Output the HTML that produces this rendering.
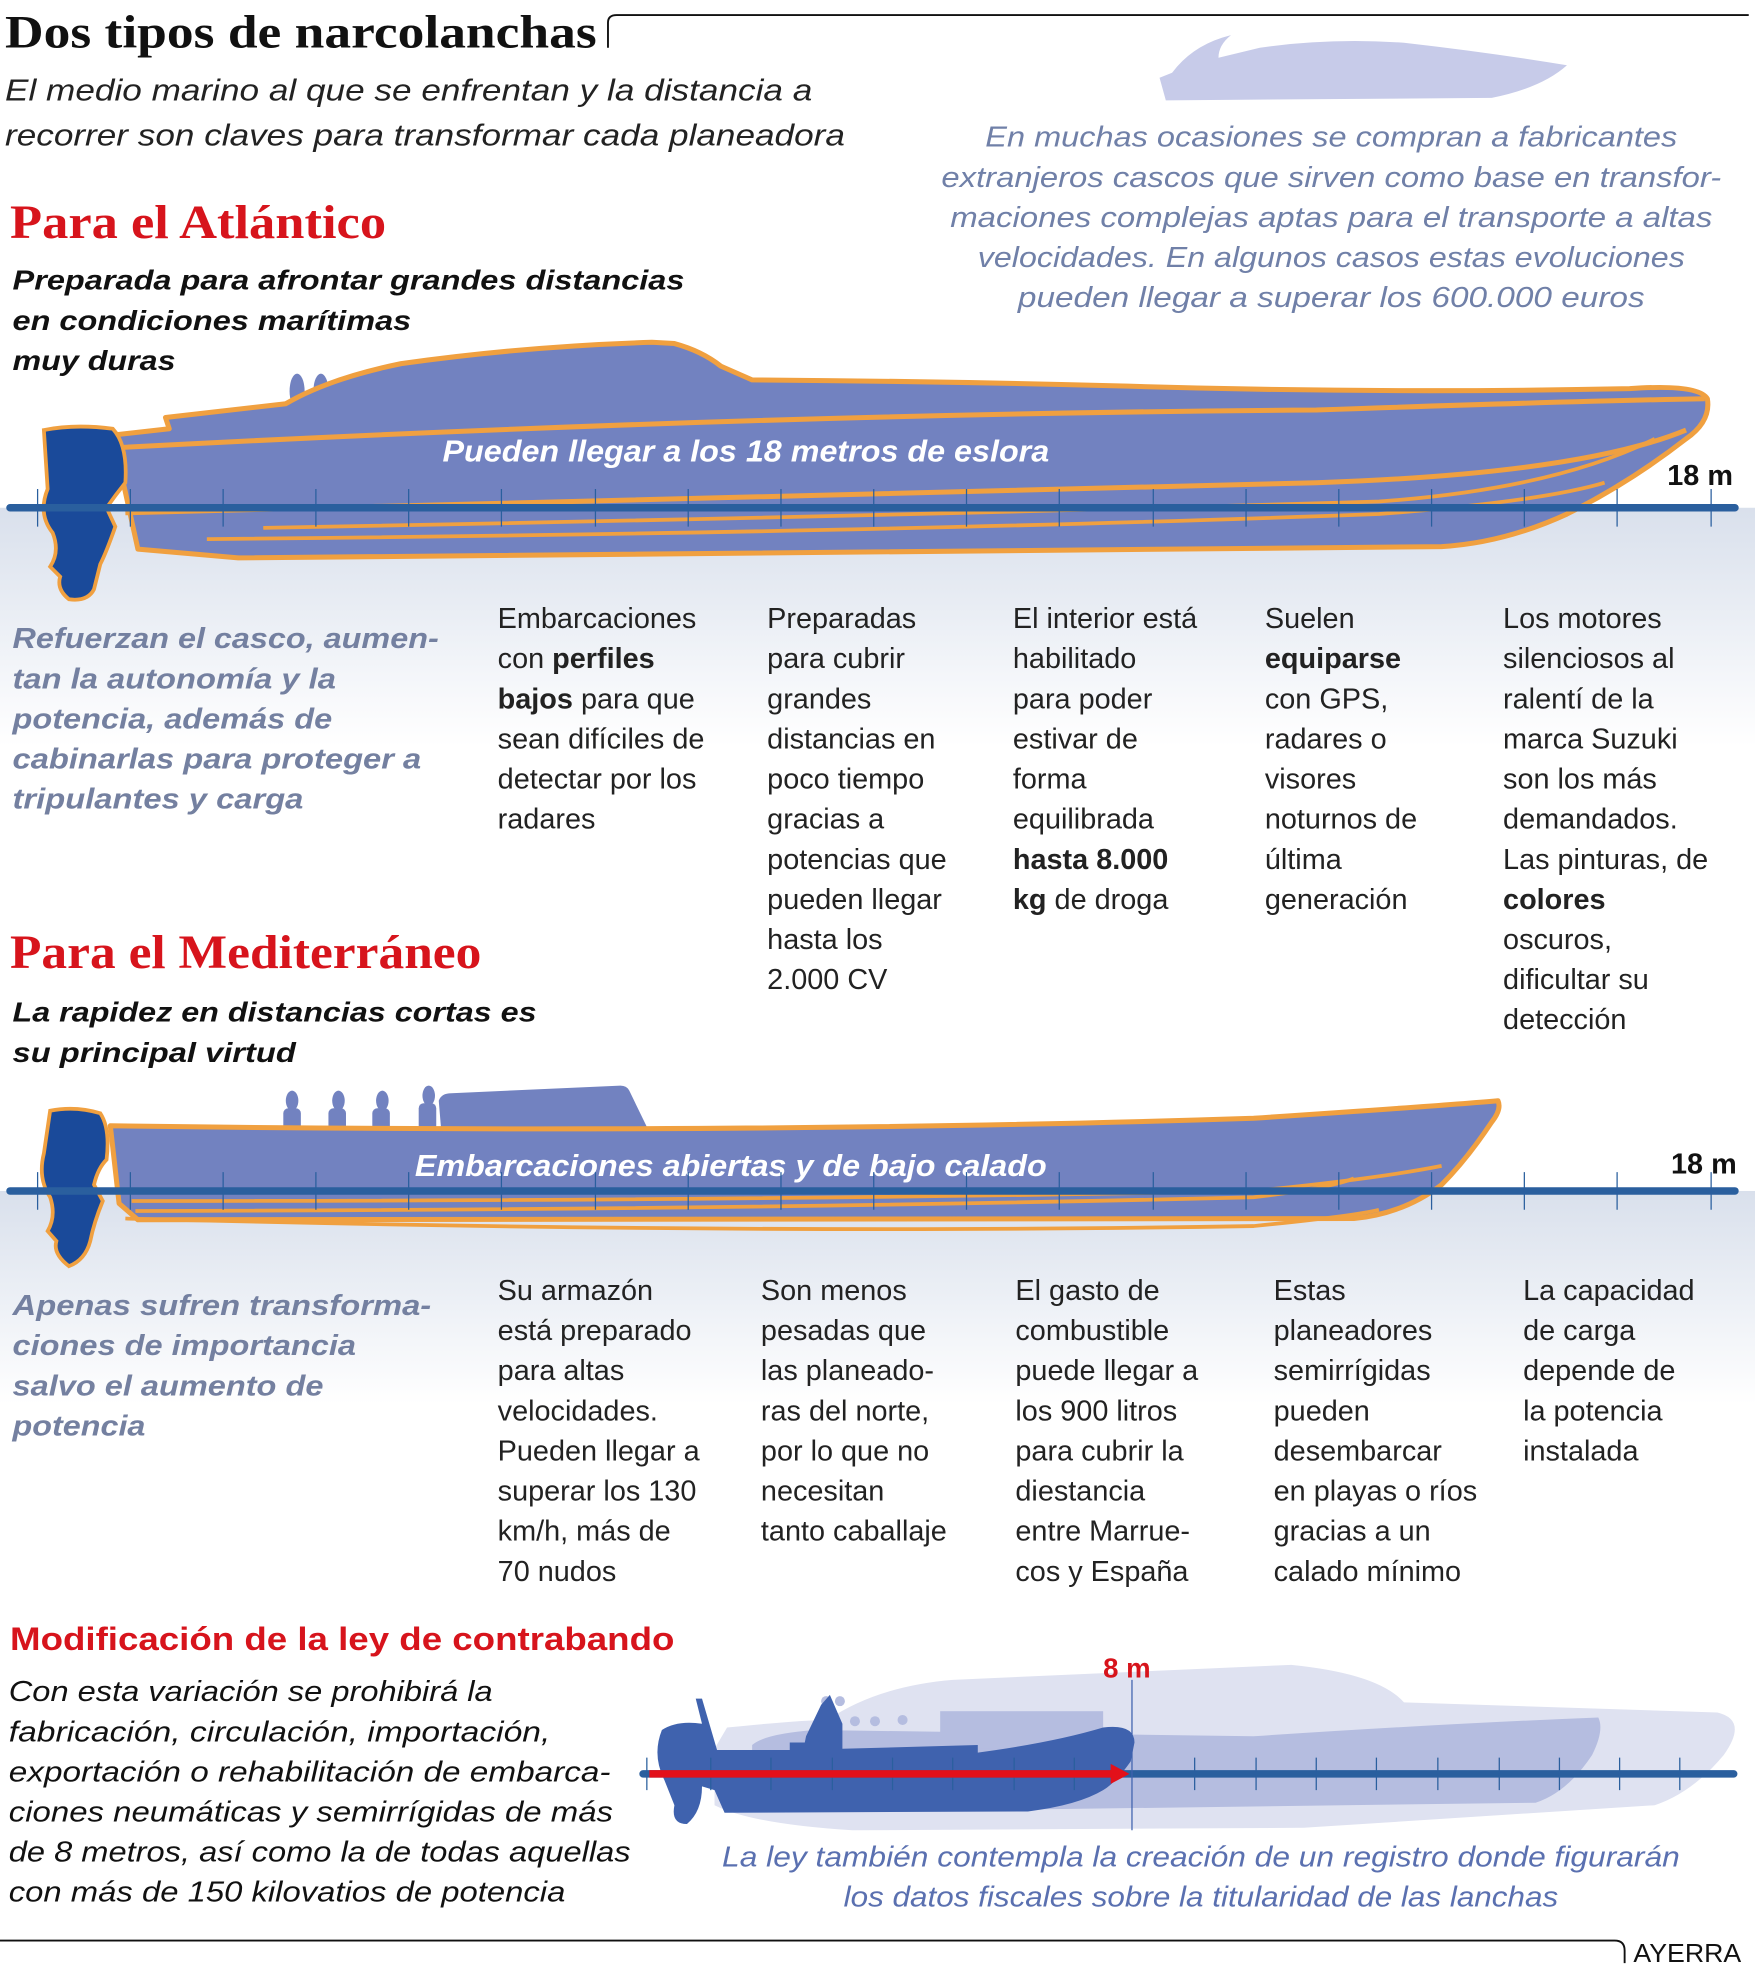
<!DOCTYPE html>
<html><head><meta charset="utf-8"><style>html,body{margin:0;padding:0;background:#fff}svg{display:block}</style></head>
<body>
<svg width="1755" height="1967" viewBox="0 0 1400 1569" xmlns="http://www.w3.org/2000/svg" font-family="Liberation Sans, DejaVu Sans, sans-serif">
<defs>
<linearGradient id="w1" x1="0" y1="0" x2="0" y2="1"><stop offset="0" stop-color="#d9e0ec"/><stop offset="1" stop-color="#ffffff"/></linearGradient>
</defs>
<rect width="1400" height="1569" fill="#fff"/>
<!-- water bands -->
<rect x="0" y="405" width="1400" height="190" fill="url(#w1)"/>
<rect x="0" y="950" width="1400" height="170" fill="url(#w1)"/>

<!-- header -->
<text x="4" y="38" font-family="Liberation Serif, serif" font-weight="bold" font-size="37" fill="#111" textLength="472" lengthAdjust="spacingAndGlyphs">Dos tipos de narcolanchas</text>
<path d="M485 38 V18 Q485 12 492 12 H1395" fill="none" stroke="#111" stroke-width="1.5"/>
<g font-style="italic" font-size="24" fill="#222">
<text x="4" y="80" textLength="644" lengthAdjust="spacingAndGlyphs">El medio marino al que se enfrentan y la distancia a</text>
<text x="4" y="116" textLength="670" lengthAdjust="spacingAndGlyphs">recorrer son claves para transformar cada planeadora</text>
</g>
<!-- top-right light boat -->
<path d="M925 62 L935 58 Q950 38 975 30 L982 28 Q972 36 972 46 L1005 38 Q1060 30 1120 34 Q1190 42 1250 52 Q1230 70 1190 78 L930 80 Z" fill="#c7cbe9"/>
<g font-style="italic" font-size="23" fill="#7080a8" text-anchor="middle">
<text x="1062" y="117" textLength="552" lengthAdjust="spacingAndGlyphs">En muchas ocasiones se compran a fabricantes</text>
<text x="1062" y="149" textLength="622" lengthAdjust="spacingAndGlyphs">extranjeros cascos que sirven como base en transfor-</text>
<text x="1062" y="181" textLength="608" lengthAdjust="spacingAndGlyphs">maciones complejas aptas para el transporte a altas</text>
<text x="1062" y="213" textLength="564" lengthAdjust="spacingAndGlyphs">velocidades. En algunos casos estas evoluciones</text>
<text x="1062" y="245" textLength="500" lengthAdjust="spacingAndGlyphs">pueden llegar a superar los 600.000 euros</text>
</g>

<!-- Atlantico -->
<text x="8" y="190" font-family="Liberation Serif, serif" font-weight="bold" font-size="38" fill="#d7141c" textLength="300" lengthAdjust="spacingAndGlyphs">Para el Atlántico</text>
<g font-style="italic" font-weight="bold" font-size="22" fill="#111">
<text x="10" y="231" textLength="536" lengthAdjust="spacingAndGlyphs">Preparada para afrontar grandes distancias</text>
<text x="10" y="263" textLength="318" lengthAdjust="spacingAndGlyphs">en condiciones marítimas</text>
<text x="10" y="295" textLength="130" lengthAdjust="spacingAndGlyphs">muy duras</text>
</g>

<!-- boat 1 -->
<g>
<ellipse cx="237" cy="312" rx="6" ry="14" fill="#7282c0"/>
<ellipse cx="256" cy="312" rx="6" ry="14" fill="#7282c0"/>
<path d="M90 347 L135 342 L132 333 L228 322 Q262 302 320 290 Q420 276 520 273 L538 274 Q560 280 575 292 L600 303 Q750 304 900 308 Q1100 314 1300 310 Q1355 306 1362 318 Q1365 336 1345 350 Q1300 385 1250 410 Q1200 433 1150 436 L190 445 L110 438 Z" fill="#7282c0" stroke="#f0a040" stroke-width="4" stroke-linejoin="round"/>
<path d="M95 357 Q600 330 1050 327 Q1250 320 1360 318" fill="none" stroke="#f0a040" stroke-width="4"/>
<path d="M100 409 Q600 395 1050 385 Q1260 378 1345 343" fill="none" stroke="#f0a040" stroke-width="4"/>
<path d="M210 421 Q700 412 1100 400 Q1240 390 1320 350" fill="none" stroke="#f0a040" stroke-width="3"/>
<path d="M165 430 Q700 425 1100 410 Q1230 400 1280 385" fill="none" stroke="#f0a040" stroke-width="3"/>
<path d="M35 343 Q60 338 90 342 Q102 355 100 385 Q92 395 85 405 L92 420 Q85 440 80 450 L75 470 Q70 480 55 478 Q45 470 48 460 L40 452 Q48 440 42 425 Q30 410 38 390 Z" fill="#1a4a9a" stroke="#f0a040" stroke-width="3"/>
<text x="595" y="368" text-anchor="middle" font-style="italic" font-weight="bold" font-size="24" fill="#fff" textLength="484" lengthAdjust="spacingAndGlyphs">Pueden llegar a los 18 metros de eslora</text>
</g>
<line x1="8" y1="405" x2="1384" y2="405" stroke="#2a5f9e" stroke-width="6" stroke-linecap="round"/>
<g stroke="#2a5f9e" stroke-width="1">
<path d="M30 390V420M104 390V420M178 390V420M252 390V420M326 390V420M400 390V420M475 390V420M549 390V420M623 390V420M697 390V420M771 390V420M845 390V420M920 390V420M994 390V420M1068 390V420M1142 390V420M1216 390V420M1290 390V420M1365 390V420"/>
</g>
<text x="1330" y="387" font-weight="bold" font-size="23" fill="#111">18 m</text>

<g font-style="italic" font-weight="bold" font-size="23" fill="#7480a0">
<text x="10" y="517" textLength="340" lengthAdjust="spacingAndGlyphs">Refuerzan el casco, aumen-</text>
<text x="10" y="549" textLength="258" lengthAdjust="spacingAndGlyphs">tan la autonomía y la</text>
<text x="10" y="581" textLength="255" lengthAdjust="spacingAndGlyphs">potencia, además de</text>
<text x="10" y="613" textLength="326" lengthAdjust="spacingAndGlyphs">cabinarlas para proteger a</text>
<text x="10" y="645" textLength="232" lengthAdjust="spacingAndGlyphs">tripulantes y carga</text>
</g>
<g font-size="23" fill="#222">
<text x="397" y="501">Embarcaciones</text>
<text x="397" y="533">con <tspan font-weight="bold">perfiles</tspan></text>
<text x="397" y="565"><tspan font-weight="bold">bajos</tspan> para que</text>
<text x="397" y="597">sean difíciles de</text>
<text x="397" y="629">detectar por los</text>
<text x="397" y="661">radares</text>

<text x="612" y="501">Preparadas</text>
<text x="612" y="533">para cubrir</text>
<text x="612" y="565">grandes</text>
<text x="612" y="597">distancias en</text>
<text x="612" y="629">poco tiempo</text>
<text x="612" y="661">gracias a</text>
<text x="612" y="693">potencias que</text>
<text x="612" y="725">pueden llegar</text>
<text x="612" y="757">hasta los</text>
<text x="612" y="789">2.000 CV</text>

<text x="808" y="501">El interior está</text>
<text x="808" y="533">habilitado</text>
<text x="808" y="565">para poder</text>
<text x="808" y="597">estivar de</text>
<text x="808" y="629">forma</text>
<text x="808" y="661">equilibrada</text>
<text x="808" y="693" font-weight="bold">hasta 8.000</text>
<text x="808" y="725"><tspan font-weight="bold">kg</tspan> de droga</text>

<text x="1009" y="501">Suelen</text>
<text x="1009" y="533" font-weight="bold">equiparse</text>
<text x="1009" y="565">con GPS,</text>
<text x="1009" y="597">radares o</text>
<text x="1009" y="629">visores</text>
<text x="1009" y="661">noturnos de</text>
<text x="1009" y="693">última</text>
<text x="1009" y="725">generación</text>

<text x="1199" y="501">Los motores</text>
<text x="1199" y="533">silenciosos al</text>
<text x="1199" y="565">ralentí de la</text>
<text x="1199" y="597">marca Suzuki</text>
<text x="1199" y="629">son los más</text>
<text x="1199" y="661">demandados.</text>
<text x="1199" y="693">Las pinturas, de</text>
<text x="1199" y="725" font-weight="bold">colores</text>
<text x="1199" y="757">oscuros,</text>
<text x="1199" y="789">dificultar su</text>
<text x="1199" y="821">detección</text>
</g>

<!-- Mediterraneo -->
<text x="8" y="772" font-family="Liberation Serif, serif" font-weight="bold" font-size="38" fill="#d7141c" textLength="376" lengthAdjust="spacingAndGlyphs">Para el Mediterráneo</text>
<g font-style="italic" font-weight="bold" font-size="22" fill="#111">
<text x="10" y="815" textLength="418" lengthAdjust="spacingAndGlyphs">La rapidez en distancias cortas es</text>
<text x="10" y="847" textLength="226" lengthAdjust="spacingAndGlyphs">su principal virtud</text>
</g>
<g fill="#7282c0">
<path d="M352 902 L350 878 Q352 872 360 872 L495 866 Q500 866 502 870 L518 903 Z"/>
<ellipse cx="233" cy="878" rx="5" ry="8"/><rect x="226" y="884" width="14" height="18" rx="4"/>
<ellipse cx="270" cy="878" rx="5" ry="8"/><rect x="262" y="884" width="14" height="18" rx="4"/>
<ellipse cx="305" cy="878" rx="5" ry="8"/><rect x="297" y="884" width="14" height="18" rx="4"/>
<ellipse cx="342" cy="874" rx="5" ry="8"/><rect x="334" y="880" width="14" height="22" rx="4"/>
</g>
<path d="M88 898 Q600 905 1000 892 Q1150 882 1195 878 Q1198 885 1190 895 Q1170 925 1150 945 Q1120 968 1080 972 L110 973 L95 960 Z" fill="#7282c0" stroke="#f0a040" stroke-width="4" stroke-linejoin="round"/>
<path d="M105 958 Q600 958 1000 950 Q1100 940 1150 930" fill="none" stroke="#f0a040" stroke-width="3"/>
<path d="M108 966 Q600 965 1000 955 Q1060 948 1080 940" fill="none" stroke="#f0a040" stroke-width="3"/>
<path d="M100 972 Q600 985 1000 978 Q1080 970 1100 965" fill="none" stroke="#f0a040" stroke-width="3"/>
<path d="M40 886 Q60 882 80 888 Q88 900 85 925 Q78 932 75 945 L82 958 Q75 975 72 990 Q68 1005 55 1010 Q42 1000 45 990 L38 982 Q45 970 40 955 Q30 940 35 920 Z" fill="#1a4a9a" stroke="#f0a040" stroke-width="3"/>
<text x="583" y="938" text-anchor="middle" font-style="italic" font-weight="bold" font-size="24" fill="#fff" textLength="504" lengthAdjust="spacingAndGlyphs">Embarcaciones abiertas y de bajo calado</text>
<line x1="8" y1="950" x2="1384" y2="950" stroke="#2a5f9e" stroke-width="6" stroke-linecap="round"/>
<g stroke="#2a5f9e" stroke-width="1">
<path d="M30 935V965M104 935V965M178 935V965M252 935V965M326 935V965M400 935V965M475 935V965M549 935V965M623 935V965M697 935V965M771 935V965M845 935V965M920 935V965M994 935V965M1068 935V965M1142 935V965M1216 935V965M1290 935V965M1365 935V965"/>
</g>
<text x="1333" y="936" font-weight="bold" font-size="23" fill="#111">18 m</text>

<g font-style="italic" font-weight="bold" font-size="23" fill="#7480a0">
<text x="10" y="1049" textLength="334" lengthAdjust="spacingAndGlyphs">Apenas sufren transforma-</text>
<text x="10" y="1081" textLength="274" lengthAdjust="spacingAndGlyphs">ciones de importancia</text>
<text x="10" y="1113" textLength="248" lengthAdjust="spacingAndGlyphs">salvo el aumento de</text>
<text x="10" y="1145" textLength="106" lengthAdjust="spacingAndGlyphs">potencia</text>
</g>
<g font-size="23" fill="#222">
<text x="397" y="1037">Su armazón</text>
<text x="397" y="1069">está preparado</text>
<text x="397" y="1101">para altas</text>
<text x="397" y="1133">velocidades.</text>
<text x="397" y="1165">Pueden llegar a</text>
<text x="397" y="1197">superar los 130</text>
<text x="397" y="1229">km/h, más de</text>
<text x="397" y="1261">70 nudos</text>

<text x="607" y="1037">Son menos</text>
<text x="607" y="1069">pesadas que</text>
<text x="607" y="1101">las planeado-</text>
<text x="607" y="1133">ras del norte,</text>
<text x="607" y="1165">por lo que no</text>
<text x="607" y="1197">necesitan</text>
<text x="607" y="1229">tanto caballaje</text>

<text x="810" y="1037">El gasto de</text>
<text x="810" y="1069">combustible</text>
<text x="810" y="1101">puede llegar a</text>
<text x="810" y="1133">los 900 litros</text>
<text x="810" y="1165">para cubrir la</text>
<text x="810" y="1197">diestancia</text>
<text x="810" y="1229">entre Marrue-</text>
<text x="810" y="1261">cos y España</text>

<text x="1016" y="1037">Estas</text>
<text x="1016" y="1069">planeadores</text>
<text x="1016" y="1101">semirrígidas</text>
<text x="1016" y="1133">pueden</text>
<text x="1016" y="1165">desembarcar</text>
<text x="1016" y="1197">en playas o ríos</text>
<text x="1016" y="1229">gracias a un</text>
<text x="1016" y="1261">calado mínimo</text>

<text x="1215" y="1037">La capacidad</text>
<text x="1215" y="1069">de carga</text>
<text x="1215" y="1101">depende de</text>
<text x="1215" y="1133">la potencia</text>
<text x="1215" y="1165">instalada</text>
</g>

<!-- Modificacion -->
<text x="8" y="1316" font-weight="bold" font-size="26" fill="#d7141c" textLength="530" lengthAdjust="spacingAndGlyphs">Modificación de la ley de contrabando</text>
<g font-style="italic" font-size="23" fill="#111">
<text x="7" y="1357" textLength="386" lengthAdjust="spacingAndGlyphs">Con esta variación se prohibirá la</text>
<text x="7" y="1389" textLength="432" lengthAdjust="spacingAndGlyphs">fabricación, circulación, importación,</text>
<text x="7" y="1421" textLength="480" lengthAdjust="spacingAndGlyphs">exportación o rehabilitación de embarca-</text>
<text x="7" y="1453" textLength="482" lengthAdjust="spacingAndGlyphs">ciones neumáticas y semirrígidas de más</text>
<text x="7" y="1485" textLength="496" lengthAdjust="spacingAndGlyphs">de 8 metros, así como la de todas aquellas</text>
<text x="7" y="1517" textLength="444" lengthAdjust="spacingAndGlyphs">con más de 150 kilovatios de potencia</text>
</g>
<!-- law diagram -->
<path d="M570 1395 L580 1378 Q640 1372 660 1372 Q700 1345 760 1340 L1030 1328 Q1100 1335 1120 1358 L1370 1366 Q1395 1372 1375 1400 Q1350 1430 1320 1440 L1040 1458 L680 1460 Q600 1455 570 1440 Z" fill="#dfe2f1"/>
<path d="M600 1392 Q610 1383 650 1380 L1000 1385 Q1150 1375 1275 1370 Q1280 1380 1270 1400 Q1250 1430 1225 1438 L700 1445 Q640 1440 600 1420 Z" fill="#b5bde0"/>
<g fill="#b5bde0">
<circle cx="659" cy="1357" r="4"/><circle cx="670" cy="1357" r="4"/><circle cx="682" cy="1373" r="4"/><circle cx="698" cy="1373" r="4"/><circle cx="720" cy="1372" r="4"/>
<rect x="750" y="1365" width="130" height="30"/>
</g>
<path d="M528 1380 Q540 1372 560 1375 L555 1355 L560 1355 L572 1396 L630 1396 L630 1390 L642 1390 L643 1385 L655 1360 L662 1352 L672 1375 L672 1395 L780 1392 L780 1398 Q840 1390 880 1378 Q905 1375 905 1390 L902 1405 Q890 1422 880 1428 Q860 1440 820 1445 L578 1446 L570 1428 L560 1425 Q560 1445 548 1455 Q535 1455 538 1440 L530 1420 Q520 1400 528 1380 Z" fill="#3f62ae"/>
<line x1="513" y1="1415" x2="1383" y2="1415" stroke="#2a5f9e" stroke-width="6" stroke-linecap="round"/>
<g stroke="#2a5f9e" stroke-width="1">
<path d="M516 1402V1428M567 1402V1428M615 1402V1428M664 1402V1428M712 1402V1428M760 1402V1428M809 1402V1428M857 1402V1428M953 1402V1428M1002 1402V1428M1050 1402V1428M1098 1402V1428M1147 1402V1428M1196 1402V1428M1244 1402V1428M1292 1402V1428M1340 1402V1428"/>
</g>
<line x1="903" y1="1340" x2="903" y2="1460" stroke="#3f62ae" stroke-width="1"/>
<line x1="518" y1="1415" x2="890" y2="1415" stroke="#e3101a" stroke-width="6"/>
<path d="M886 1407 L901 1415 L886 1423 Z" fill="#e3101a"/>
<text x="880" y="1338" font-weight="bold" font-size="22" fill="#d7141c">8 m</text>
<g font-style="italic" font-size="23" fill="#5a70b0" text-anchor="middle">
<text x="958" y="1489" textLength="764" lengthAdjust="spacingAndGlyphs">La ley también contempla la creación de un registro donde figurarán</text>
<text x="958" y="1521" textLength="570" lengthAdjust="spacingAndGlyphs">los datos fiscales sobre la titularidad de las lanchas</text>
</g>
<!-- footer -->
<path d="M0 1548 H1288 Q1296 1548 1296 1556 V1566" fill="none" stroke="#111" stroke-width="1.5"/>
<text x="1303" y="1565" font-size="21" fill="#111" textLength="86" lengthAdjust="spacingAndGlyphs">AYERRA</text>
</svg>
</body></html>
